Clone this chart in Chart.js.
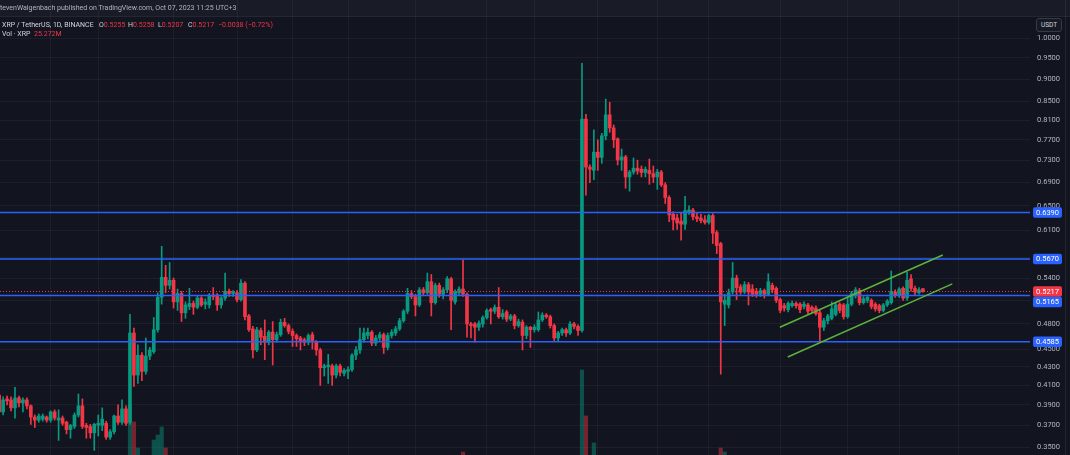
<!DOCTYPE html>
<html>
<head>
<meta charset="utf-8">
<script src="https://cdn.jsdelivr.net/npm/chart.js@4.4.0/dist/chart.umd.min.js"></script>
<style>
  html, body { margin: 0; padding: 0; background: #121520; }
  #wrap { position: relative; width: 1070px; height: 455px; overflow: hidden; background: #121520; }
  #chart { position: absolute; left: 0; top: 0; }
  .band { position: absolute; left: 0; top: 0; width: 1070px; height: 16px; background: rgba(255,255,255,0.03); border-bottom: 1px solid rgba(255,255,255,0.05); }
  .txt { position: absolute; font-family: Roboto, "Noto Sans", sans-serif; font-size: 7px; line-height: 7px; white-space: nowrap; color: #d1d4dc; }
  .t1 { color: #b2b5be; }
  .red { color: #f23645; }
  .usdt { position: absolute; left: 1036px; top: 18px; width: 26px; height: 14px; box-sizing: border-box; border: 1px solid #363a45; border-radius: 3px; background: #161a25; color: #d1d4dc; font-family: Roboto, sans-serif; font-size: 6.5px; line-height: 12px; text-align: center; }
</style>
</head>
<body>
<div id="wrap">
  <canvas id="chart" width="1070" height="455"></canvas>
  <div class="band"></div>
  <div class="txt t1" style="left:0px;top:4.5px">tevenWalgenbach published on TradingView.com, Oct 07, 2023 11:25 UTC+3</div>
  <div class="txt" style="left:2px;top:21.5px">XRP / TetherUS, 1D, BINANCE</div>
  <div class="txt" style="left:99px;top:21.5px">O<span class="red">0.5255</span></div>
  <div class="txt" style="left:128px;top:21.5px">H<span class="red">0.5258</span></div>
  <div class="txt" style="left:158px;top:21.5px">L<span class="red">0.5207</span></div>
  <div class="txt" style="left:188px;top:21.5px">C<span class="red">0.5217</span></div>
  <div class="txt red" style="left:218px;top:21.5px">−0.0038 (−0.72%)</div>
  <div class="txt" style="left:2px;top:30.5px">Vol · XRP</div>
  <div class="txt red" style="left:34px;top:30.5px">25.272M</div>
  <div class="usdt">USDT</div>
</div>
<script>
// XRP/USDT daily candles, Feb 16 2023 (day -1) .. Oct 07 2023 (day 232)
const firstDay = -1;

const opens = [
  .400,.383,.396,.395,.387,.397,.392,.395,.389,.378,
  .375,.376,.378,.375,.383,.375,.377,.373,.366,.369,
  .380,.389,.370,.369,.363,.370,.370,.372,.359,.364,
  .379,.373,.386,.373,.469,.421,.443,.425,.442,.447,
  .473,.514,.541,.530,.537,.508,.519,.494,.502,.506,
  .501,.513,.505,.504,.517,.517,.504,.513,.522,.519,
  .520,.511,.533,.490,.474,.449,.472,.465,.458,.470,
  .461,.467,.482,.478,.471,.466,.463,.461,.458,.467,
  .459,.449,.429,.430,.431,.421,.431,.423,.425,.427,
  .443,.449,.461,.466,.470,.457,.463,.467,.452,.466,
  .469,.474,.484,.496,.519,.515,.504,.524,.520,.535,
  .507,.530,.518,.524,.539,.508,.520,.525,.518,.480,
  .480,.476,.480,.488,.498,.496,.501,.489,.495,.486,
  .490,.478,.482,.466,.476,.473,.473,.485,.491,.489,
  .478,.463,.469,.473,.469,.480,.477,.472,.812,.718,
  .712,.746,.736,.778,.821,.794,.772,.731,.737,.700,
  .709,.716,.714,.708,.712,.706,.700,.709,.686,.664,
  .636,.630,.625,.620,.640,.643,.632,.630,.627,.623,
  .634,.607,.590,.505,.504,.521,.540,.528,.521,.531,
  .525,.522,.518,.523,.518,.530,.526,.511,.503,.498,
  .503,.506,.505,.502,.504,.501,.500,.494,.476,.484,
  .487,.492,.505,.504,.489,.505,.516,.523,.507,.510,
  .510,.505,.503,.497,.504,.507,.521,.517,.526,.513,
  .539,.526,.520,.5255
];
const highs = [
  .402,.398,.399,.398,.408,.399,.397,.397,.390,.380,
  .381,.381,.379,.384,.385,.385,.379,.374,.371,.382,
  .401,.396,.372,.371,.372,.380,.387,.374,.366,.380,
  .390,.395,.389,.492,.475,.455,.446,.463,.452,.488,
  .520,.586,.558,.562,.540,.525,.522,.508,.526,.509,
  .516,.515,.512,.519,.527,.519,.515,.547,.525,.523,
  .523,.538,.535,.492,.477,.476,.475,.485,.472,.483,
  .470,.486,.487,.480,.474,.468,.465,.463,.468,.470,
  .460,.451,.433,.444,.433,.433,.433,.428,.430,.445,
  .453,.475,.475,.475,.472,.466,.470,.469,.469,.473,
  .477,.487,.498,.526,.523,.518,.527,.527,.547,.545,
  .533,.533,.527,.542,.541,.524,.528,.566,.520,.482,
  .482,.484,.490,.499,.500,.504,.527,.498,.497,.492,
  .492,.486,.485,.478,.477,.479,.495,.494,.493,.491,
  .480,.471,.475,.475,.483,.482,.479,.937,.822,.722,
  .790,.770,.783,.855,.848,.800,.774,.752,.740,.712,
  .735,.731,.720,.718,.733,.720,.714,.712,.690,.667,
  .640,.636,.638,.666,.650,.646,.639,.636,.634,.636,
  .637,.610,.592,.518,.525,.562,.544,.531,.535,.534,
  .531,.526,.526,.525,.546,.533,.528,.513,.506,.508,
  .509,.508,.507,.508,.506,.503,.503,.497,.487,.492,
  .508,.507,.507,.506,.515,.522,.527,.526,.515,.517,
  .512,.507,.505,.506,.511,.550,.524,.527,.528,.548,
  .545,.529,.527,.5258
];
const lows = [
  .381,.380,.390,.384,.377,.388,.383,.386,.371,.368,
  .373,.374,.373,.373,.375,.356,.370,.362,.358,.367,
  .378,.367,.358,.358,.347,.360,.365,.357,.357,.362,
  .371,.371,.370,.371,.409,.412,.415,.422,.438,.445,
  .470,.505,.520,.525,.500,.497,.483,.487,.498,.492,
  .499,.502,.499,.500,.511,.497,.500,.510,.515,.515,
  .508,.509,.485,.471,.440,.447,.455,.438,.455,.432,
  .458,.465,.476,.468,.453,.453,.449,.454,.455,.450,
  .443,.410,.420,.412,.410,.418,.420,.420,.417,.425,
  .438,.445,.458,.462,.454,.454,.460,.445,.449,.463,
  .466,.472,.482,.493,.512,.490,.502,.516,.518,.490,
  .505,.514,.512,.520,.473,.505,.517,.515,.464,.463,
  .458,.472,.476,.486,.480,.493,.487,.486,.483,.484,
  .474,.476,.449,.462,.452,.470,.471,.483,.487,.475,
  .460,.459,.466,.465,.467,.474,.466,.470,.668,.690,
  .695,.712,.725,.770,.785,.755,.722,.712,.680,.675,
  .705,.705,.700,.700,.687,.690,.678,.683,.654,.624,
  .611,.612,.595,.612,.636,.627,.624,.622,.620,.620,
  .590,.575,.422,.478,.500,.518,.511,.518,.519,.504,
  .515,.514,.515,.513,.516,.520,.507,.494,.496,.495,
  .501,.500,.494,.499,.493,.494,.491,.458,.472,.480,
  .485,.490,.494,.486,.487,.503,.513,.504,.505,.507,
  .499,.496,.494,.495,.502,.505,.514,.514,.510,.510,
  .522,.517,.518,.5207
];
const closes = [
  .383,.395,.394,.387,.397,.392,.395,.389,.378,.375,
  .379,.379,.375,.383,.377,.377,.372,.366,.370,.380,
  .389,.369,.368,.363,.371,.372,.376,.359,.364,.379,
  .373,.386,.372,.469,.421,.443,.425,.442,.449,.473,
  .514,.541,.530,.537,.508,.519,.494,.504,.506,.501,
  .513,.504,.508,.517,.515,.504,.513,.522,.519,.521,
  .511,.533,.489,.473,.449,.473,.464,.458,.470,.461,
  .467,.482,.478,.471,.466,.462,.460,.458,.466,.460,
  .449,.429,.431,.432,.421,.431,.424,.426,.427,.443,
  .449,.461,.469,.470,.457,.463,.467,.452,.466,.470,
  .474,.484,.496,.519,.515,.504,.524,.520,.535,.507,
  .530,.518,.524,.539,.510,.521,.525,.518,.480,.478,
  .476,.481,.488,.497,.496,.501,.489,.493,.486,.490,
  .478,.483,.466,.476,.473,.476,.485,.491,.489,.478,
  .463,.469,.473,.469,.480,.477,.472,.812,.718,.714,
  .746,.736,.778,.821,.794,.770,.731,.737,.700,.709,
  .716,.711,.708,.714,.706,.700,.709,.686,.664,.635,
  .627,.622,.620,.642,.643,.632,.629,.626,.623,.634,
  .606,.587,.508,.510,.520,.540,.527,.521,.531,.521,
  .518,.518,.523,.518,.535,.524,.510,.497,.500,.506,
  .506,.503,.498,.505,.496,.497,.493,.476,.484,.490,
  .499,.504,.497,.489,.505,.519,.524,.507,.512,.514,
  .502,.499,.497,.504,.509,.522,.517,.525,.513,.537,
  .526,.521,.524,.5217
];

// only the volume bars tall enough to show above the bottom edge (millions XRP)
const volDays = [32, 33, 34, 38, 39, 40, 41, 116, 146, 147, 149, 181, 182];
const volValues = [1235, 912, 418, 570, 665, 817, 418, 342, 1900, 1026, 513, 418, 342];

const priceTicks = [1.0, 0.95, 0.90, 0.85, 0.81, 0.77, 0.73, 0.69, 0.65, 0.61, 0.57, 0.54,
                    0.51, 0.48, 0.45, 0.43, 0.41, 0.39, 0.37, 0.35];
const gridDays = [12, 24, 43, 59, 73, 87, 104, 122, 134, 150, 165, 178, 196, 213, 226, 241];

const levelPrices = [0.6390, 0.5670, 0.5165, 0.4585];
const lastPrice = 0.5217;
const channelUpper = [[195.9, 0.476], [237.0, 0.573]];
const channelLower = [[197.9, 0.441], [239.4, 0.532]];

const GREEN = "#089981";
const RED = "#f23645";
const BLUE = "#2962ff";
const CHANNEL = "#5bb33d";
const X_MIN = -0.78, X_MAX = 259.0;

const days = opens.map((_, i) => firstDay + i);
const up = closes.map((c, i) => c >= opens[i]);
const candleColors = up.map(u => u ? GREEN : RED);

const hline = (price, color, width, dash) => ({
    type: "line",
    data: [{x: X_MIN, y: price}, {x: X_MAX, y: price}],
    borderColor: color,
    borderWidth: width,
    borderDash: dash || [],
    pointRadius: 0,
    yAxisID: "y",
    order: 2
});

const priceTags = [
    {value: 0.6390, color: BLUE},
    {value: 0.5670, color: BLUE},
    {value: 0.5217, color: RED},
    {value: 0.5165, color: BLUE},
    {value: 0.4585, color: BLUE}
];

const tagPlugin = {
    id: "priceTags",
    afterDraw(chart) {
        const ctx = chart.ctx;
        const y = chart.scales.y;
        const h = 10.5;
        let prevBottom = -Infinity;
        ctx.save();
        ctx.font = "7.5px Roboto";
        ctx.textAlign = "center";
        ctx.textBaseline = "middle";
        priceTags.forEach(t => {
            let top = y.getPixelForValue(t.value) - h / 2;
            if (top < prevBottom) top = prevBottom;
            ctx.fillStyle = t.color;
            ctx.beginPath();
            ctx.roundRect(1033, top, 29, h, 2);
            ctx.fill();
            ctx.fillStyle = "#ffffff";
            ctx.fillText(t.value.toFixed(4), 1047.5, top + h / 2 + 0.5);
            prevBottom = top + h;
        });
        ctx.strokeStyle = "rgba(255,255,255,0.07)";
        ctx.beginPath();
        ctx.moveTo(1065.5, 0);
        ctx.lineTo(1065.5, 455);
        ctx.stroke();
        ctx.restore();
    }
};

new Chart(document.getElementById("chart").getContext("2d"), {
    type: "bar",
    data: {
        datasets: [
            {
                label: "Volume",
                data: volDays.map((d, i) => ({x: d, y: volValues[i]})),
                yAxisID: "vol",
                backgroundColor: volDays.map(d => up[d - firstDay] ? "rgba(8,153,129,0.45)" : "rgba(242,54,69,0.45)"),
                barThickness: 3.5,
                grouped: false,
                order: 6
            },
            {
                label: "Wicks",
                data: days.map((d, i) => ({x: d, y: [lows[i], highs[i]]})),
                yAxisID: "y",
                backgroundColor: candleColors,
                barThickness: 1,
                grouped: false,
                order: 5
            },
            {
                label: "Bodies",
                data: days.map((d, i) => ({x: d, y: [opens[i], closes[i]]})),
                yAxisID: "y",
                backgroundColor: candleColors,
                barThickness: 3,
                minBarLength: 1,
                grouped: false,
                order: 4
            },
            ...levelPrices.map(p => hline(p, BLUE, 1.5)),
            hline(lastPrice, RED, 1, [1, 2]),
            {
                type: "line",
                data: channelUpper.map(([x, y]) => ({x, y})),
                borderColor: CHANNEL,
                borderWidth: 1.5,
                pointRadius: 0,
                yAxisID: "y",
                order: 1
            },
            {
                type: "line",
                data: channelLower.map(([x, y]) => ({x, y})),
                borderColor: CHANNEL,
                borderWidth: 1.5,
                pointRadius: 0,
                yAxisID: "y",
                order: 1
            }
        ]
    },
    options: {
        responsive: false,
        animation: false,
        events: [],
        layout: {padding: 0, autoPadding: false},
        plugins: {legend: {display: false}, tooltip: {enabled: false}},
        scales: {
            x: {
                type: "linear",
                min: X_MIN,
                max: X_MAX,
                bounds: "data",
                offset: false,
                afterBuildTicks: scale => { scale.ticks = gridDays.map(v => ({value: v})); },
                afterFit: scale => { scale.height = 0; scale.paddingLeft = 0; scale.paddingRight = 0; },
                ticks: {display: false},
                grid: {color: "rgba(255,255,255,0.045)", drawTicks: false, offset: false},
                border: {display: false}
            },
            y: {
                type: "logarithmic",
                position: "right",
                min: 0.3429,
                max: 1.1025,
                bounds: "data",
                afterBuildTicks: scale => { scale.ticks = priceTicks.map(v => ({value: v})); },
                afterFit: scale => { scale.width = 40; scale.paddingTop = 0; scale.paddingBottom = 0; },
                ticks: {
                    autoSkip: false,
                    padding: 7,
                    color: "#b2b5be",
                    font: {family: "Roboto", size: 7.5},
                    callback: v => Number(v).toFixed(4)
                },
                grid: {color: "rgba(255,255,255,0.045)", drawTicks: false},
                border: {display: false}
            },
            vol: {
                type: "linear",
                display: false,
                bounds: "data",
                min: 285,
                max: 8930
            }
        }
    },
    plugins: [tagPlugin]
});
</script>
</body>
</html>
